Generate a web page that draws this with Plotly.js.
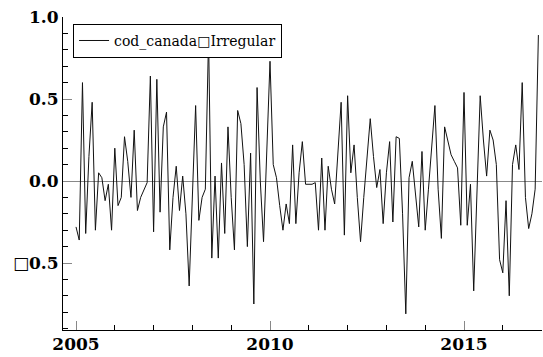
<!DOCTYPE html>
<html>
<head>
<meta charset="utf-8">
<script src="https://cdn.plot.ly/plotly-3.0.1.min.js"></script>
<style>html,body{margin:0;padding:0;background:#fff;}#chart{width:543px;height:357px;}</style>
</head>
<body>
<div id="chart"></div>
<script>
const startYear = 2005;
const seriesName = "cod_canada\u25A1Irregular";
const irregular = [
  -0.28,-0.36,0.60,-0.32,0.15,0.48,-0.30,0.05,0.02,-0.12,-0.02,-0.30,
  0.20,-0.15,-0.10,0.27,0.12,-0.10,0.31,-0.18,-0.10,-0.05,-0.01,0.64,
  -0.31,0.62,-0.19,0.33,0.42,-0.42,-0.10,0.09,-0.18,0.03,-0.20,-0.64,
  -0.10,0.46,-0.24,-0.10,-0.05,0.88,-0.47,0.03,-0.47,0.11,-0.32,0.33,
  -0.10,-0.42,0.43,0.35,0.10,-0.40,0.17,-0.75,0.57,0.00,-0.37,0.20,
  0.73,0.10,0.02,-0.15,-0.30,-0.14,-0.26,0.22,-0.26,0.05,0.24,-0.02,
  -0.02,-0.02,-0.01,-0.30,0.14,-0.30,0.09,-0.05,-0.14,0.15,0.48,-0.33,
  0.52,0.05,0.22,-0.10,-0.37,-0.10,0.15,0.38,0.15,-0.04,0.07,-0.26,
  0.05,0.24,-0.25,0.27,0.26,-0.20,-0.81,0.02,0.12,-0.10,-0.28,0.18,
  -0.30,-0.05,0.20,0.46,-0.05,-0.35,0.33,0.25,0.16,0.12,0.08,-0.27,
  0.54,-0.27,-0.02,-0.67,-0.10,0.52,0.25,0.03,0.31,0.25,0.10,-0.48,
  -0.56,-0.12,-0.70,0.10,0.22,0.07,0.60,-0.10,-0.29,-0.20,-0.05,0.89
];
const xTickVals = [2005, 2010, 2015];
const xTickText = ["2005", "2010", "2015"];
const yTickVals = [-0.5, 0, 0.5, 1.0];
const yTickText = ["\u25A10.5", "0.0", "0.5", "1.0"];

const months = irregular.map((v, i) => startYear + i / 12);

const trace = {
  x: months, y: irregular, type: 'scatter', mode: 'lines',
  name: seriesName, line: {color: '#111', width: 1}
};

const SERIF = 'DejaVu Serif';

const layout = {
  width: 543, height: 357,
  margin: {l: 63, r: 1, t: 17, b: 27},
  paper_bgcolor: '#fff', plot_bgcolor: '#fff',
  font: {family: SERIF, color: '#000'},
  showlegend: true,
  legend: {
    x: 0.021, y: 0.978, xanchor: 'left', yanchor: 'top',
    bgcolor: '#fff', bordercolor: '#000', borderwidth: 1,
    font: {size: 14, family: SERIF, color: '#000'},
    tracegroupgap: 0
  },
  xaxis: {
    range: [2004.665, 2017.01],
    showgrid: false, zeroline: false,
    showline: true, linecolor: '#000', linewidth: 1,
    ticks: 'inside', ticklen: 9, tickcolor: '#888', tickwidth: 1,
    ticklabelstandoff: -1,
    tickmode: 'array', tickvals: xTickVals, ticktext: xTickText,
    tickfont: {size: 17, family: SERIF, weight: 'bold'},
    minor: {dtick: 1, tick0: 2005, ticks: 'inside', ticklen: 5, tickcolor: '#000', showgrid: false}
  },
  yaxis: {
    range: [-0.9085, 1.0],
    showgrid: false,
    zeroline: true, zerolinecolor: '#888', zerolinewidth: 1,
    showline: true, linecolor: '#000', linewidth: 1,
    ticks: 'inside', ticklen: 9, tickcolor: '#888', tickwidth: 1,
    tickmode: 'array', tickvals: yTickVals, ticktext: yTickText,
    tickfont: {size: 17, family: SERIF, weight: 'bold'},
    minor: {dtick: 0.1, tick0: 0, ticks: 'inside', ticklen: 5, tickcolor: '#000', showgrid: false}
  }
};

Plotly.newPlot('chart', [trace], layout, {staticPlot: true, displayModeBar: false});
</script>
</body>
</html>
